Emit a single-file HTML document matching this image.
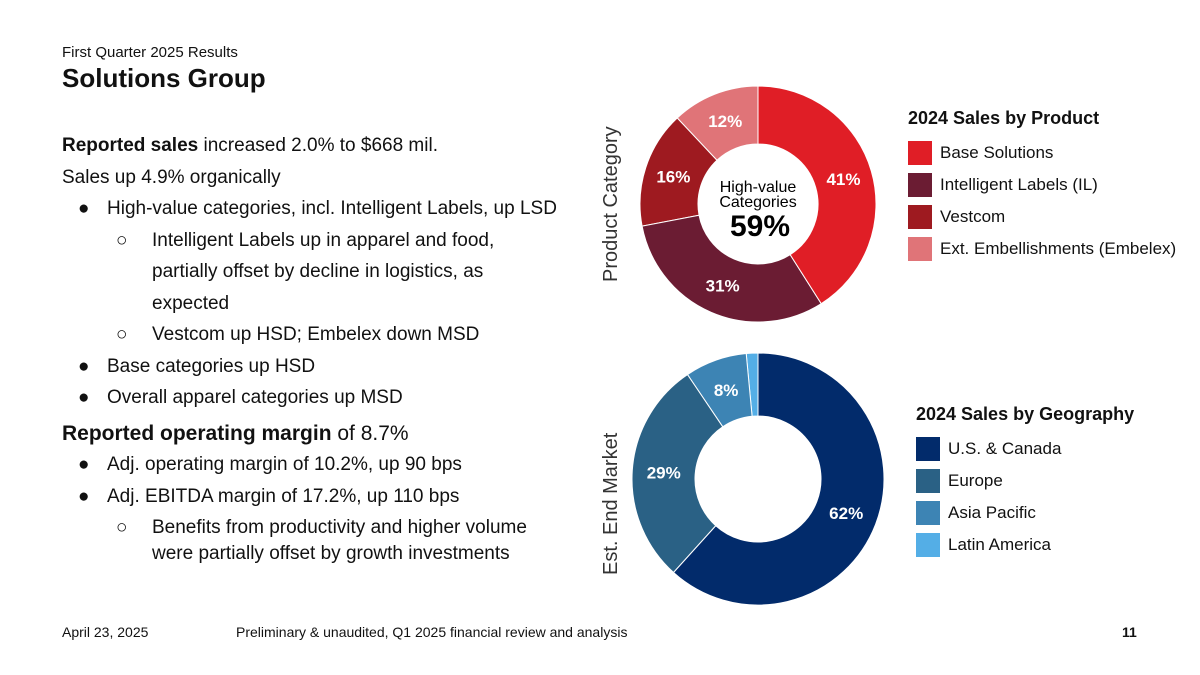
<!DOCTYPE html>
<html><head><meta charset="utf-8"><style>
body{margin:0;width:1200px;height:675px;background:#fff;font-family:"Liberation Sans",sans-serif;color:#111;position:relative;overflow:hidden}
.a{position:absolute;white-space:nowrap}
.l{position:relative;height:31.5px}
.b{position:absolute;left:16px}
.c{position:absolute;left:54px}
.t1{position:absolute;left:45px}
.t2{position:absolute;left:90px}
</style></head><body>
<div class="a" style="left:62px;top:44px;font-size:15px">First Quarter 2025 Results</div>
<div class="a" style="left:62px;top:63px;font-size:26px;font-weight:bold">Solutions Group</div>
<div style="position:absolute;left:62px;top:130px;width:520px;font-size:19px;line-height:31.5px">
<div class="l"><b>Reported sales</b> increased 2.0% to $668 mil.</div>
<div class="l">Sales up 4.9% organically</div>
<div class="l"><span class="b">●</span><span class="t1">High-value categories, incl. Intelligent Labels, up LSD</span></div>
<div class="l"><span class="c">○</span><span class="t2">Intelligent Labels up in apparel and food,</span></div>
<div class="l"><span class="t2">partially offset by decline in logistics, as</span></div>
<div class="l"><span class="t2">expected</span></div>
<div class="l"><span class="c">○</span><span class="t2">Vestcom up HSD; Embelex down MSD</span></div>
<div class="l"><span class="b">●</span><span class="t1">Base categories up HSD</span></div>
<div class="l"><span class="b">●</span><span class="t1">Overall apparel categories up MSD</span></div>
<div class="l" style="font-size:21px;top:4px"><b>Reported operating margin</b> of 8.7%</div>
<div class="l" style="top:4px"><span class="b">●</span><span class="t1">Adj. operating margin of 10.2%, up 90 bps</span></div>
<div class="l" style="top:4px"><span class="b">●</span><span class="t1">Adj. EBITDA margin of 17.2%, up 110 bps</span></div>
<div class="l" style="top:4px"><span class="c">○</span><span class="t2">Benefits from productivity and higher volume</span></div>
<div class="l" style="top:-2px"><span class="t2">were partially offset by growth investments</span></div>
</div>
<svg id="ch" width="1200" height="675" style="position:absolute;left:0;top:0">
<text x="0" y="0" transform="translate(617,282) rotate(-90)" font-size="20" fill="#333">Product Category</text>
<text x="0" y="0" transform="translate(617,575) rotate(-90)" font-size="20" fill="#333">Est. End Market</text>
<text x="758" y="192" text-anchor="middle" font-size="16">High-value</text>
<text x="758" y="207" text-anchor="middle" font-size="16">Categories</text>
<text x="760" y="236" text-anchor="middle" font-size="30" font-weight="bold">59%</text>
</svg>
<div class="a" style="left:908px;top:108px;font-size:18px;font-weight:bold">2024 Sales by Product</div>
<div class="a" style="left:916px;top:404px;font-size:18px;font-weight:bold">2024 Sales by Geography</div>
<div id="leg"></div>
<div class="a" style="left:62px;top:624px;font-size:14px">April 23, 2025</div>
<div class="a" style="left:236px;top:624px;font-size:14px">Preliminary &amp; unaudited, Q1 2025 financial review and analysis</div>
<div class="a" style="left:1122px;top:624px;font-size:14px;font-weight:bold">11</div>
<script>
const prodCats=["Base Solutions","Intelligent Labels (IL)","Vestcom","Ext. Embellishments (Embelex)"];
const prodVals=[41,31,16,12];
const prodColors=["#e01e26","#6b1c33","#9e1a20","#e07478"];
const geoCats=["U.S. & Canada","Europe","Asia Pacific","Latin America"];
const geoVals=[62,29,8,1.5];
const geoColors=["#022b6b","#2a6185","#3d84b4","#54aee6"];
const svg=document.getElementById('ch'),NS="http://www.w3.org/2000/svg";
function donut(vals,cols,cx,cy,R,r,name){
  const tot=vals.reduce((a,b)=>a+b,0);let a0=0;
  vals.forEach((v,i)=>{
    const a1=a0+v/tot*2*Math.PI;
    const p=(a,rr)=>[cx+rr*Math.sin(a),cy-rr*Math.cos(a)];
    const [x1,y1]=p(a0,R),[x2,y2]=p(a1,R),[x3,y3]=p(a1,r),[x4,y4]=p(a0,r);
    const lg=(a1-a0)>Math.PI?1:0;
    const path=document.createElementNS(NS,'path');
    path.setAttribute('d',`M${x1},${y1}A${R},${R} 0 ${lg} 1 ${x2},${y2}L${x3},${y3}A${r},${r} 0 ${lg} 0 ${x4},${y4}Z`);
    path.setAttribute('fill',cols[i]);path.setAttribute('stroke','#fff');path.setAttribute('stroke-width','1');
    
    
    svg.insertBefore(path,svg.firstChild);
    if(v>=5){
      const [tx,ty]=p((a0+a1)/2,(R+r)/2);
      const t=document.createElementNS(NS,'text');
      t.setAttribute('x',tx);t.setAttribute('y',ty+6);t.setAttribute('text-anchor','middle');
      t.setAttribute('font-size','17');t.setAttribute('font-weight','bold');t.setAttribute('fill','#fff');
      t.textContent=Math.round(v)+'%';
      
      
      svg.appendChild(t);
    }
    a0=a1;
  });
}
donut(prodVals,prodColors,758,204,118,60,'product');
donut(geoVals,geoColors,758,479,126,63,'geo');
const leg=document.getElementById('leg');
function legend(cats,cols,x,y0,name){
  cats.forEach((c,i)=>{
    const d=document.createElement('div');d.className='a';
    d.style.left=x+'px';d.style.top=(y0+i*32)+'px';d.style.fontSize='17px';d.style.lineHeight='24px';
    d.innerHTML='<span style="display:inline-block;width:24px;height:24px;background:'+cols[i]+';vertical-align:top;margin-right:8px"></span>';
    d.appendChild(document.createTextNode(c));
    
    
    leg.appendChild(d);
  });
}
legend(prodCats,prodColors,908,141,'product');
legend(geoCats,geoColors,916,437,'geo');
</script>
</body></html>
